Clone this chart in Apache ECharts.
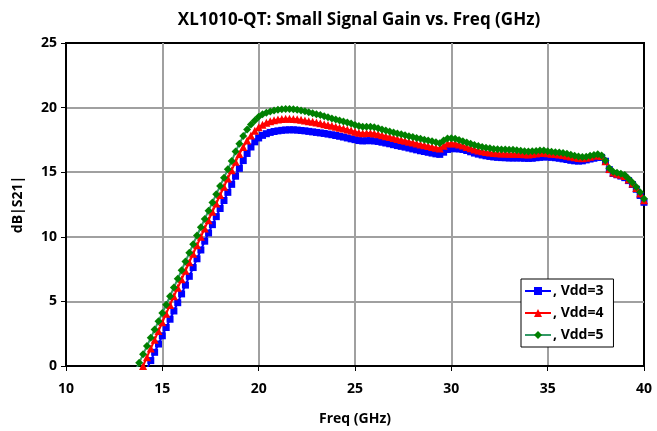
<!DOCTYPE html>
<html>
<head>
<meta charset="utf-8">
<script src="https://cdn.jsdelivr.net/npm/echarts@6/dist/echarts.min.js"></script>
<style>html,body{margin:0;padding:0;background:#fff}#c{width:657px;height:431px}</style>
</head>
<body>
<div id="c"></div>
<script>
var freq = [13.6,13.8,14.0,14.2,14.4,14.6,14.8,15.0,15.2,15.4,15.6,15.8,16.0,16.2,16.4,16.6,16.8,17.0,17.2,17.4,17.6,17.8,18.0,18.2,18.4,18.6,18.8,19.0,19.2,19.4,19.6,19.8,20.0,20.2,20.4,20.6,20.8,21.0,21.2,21.4,21.6,21.8,22.0,22.2,22.4,22.6,22.8,23.0,23.2,23.4,23.6,23.8,24.0,24.2,24.4,24.6,24.8,25.0,25.2,25.4,25.6,25.8,26.0,26.2,26.4,26.6,26.8,27.0,27.2,27.4,27.6,27.8,28.0,28.2,28.4,28.6,28.8,29.0,29.2,29.4,29.6,29.8,30.0,30.2,30.4,30.6,30.8,31.0,31.2,31.4,31.6,31.8,32.0,32.2,32.4,32.6,32.8,33.0,33.2,33.4,33.6,33.8,34.0,34.2,34.4,34.6,34.8,35.0,35.2,35.4,35.6,35.8,36.0,36.2,36.4,36.6,36.8,37.0,37.2,37.4,37.6,37.8,38.0,38.2,38.4,38.6,38.8,39.0,39.2,39.4,39.6,39.8,40.0];

var vdd3 = [-2.1,-1.5,-0.86,-0.22,0.42,1.06,1.7,2.34,2.98,3.62,4.26,4.9,5.58,6.26,6.94,7.62,8.3,8.98,9.66,10.3,10.94,11.56,12.19,12.81,13.44,14.06,14.69,15.3,15.9,16.45,16.95,17.35,17.65,17.85,17.98,18.08,18.15,18.2,18.24,18.27,18.28,18.28,18.26,18.23,18.2,18.16,18.12,18.08,18.04,18.0,17.95,17.9,17.84,17.78,17.72,17.65,17.58,17.52,17.45,17.42,17.44,17.44,17.42,17.38,17.32,17.26,17.2,17.13,17.06,17.0,16.94,16.87,16.8,16.73,16.66,16.6,16.54,16.48,16.42,16.38,16.55,16.76,16.82,16.82,16.8,16.76,16.68,16.58,16.48,16.4,16.33,16.27,16.22,16.18,16.15,16.13,16.12,16.1,16.1,16.1,16.1,16.08,16.07,16.08,16.12,16.15,16.18,16.18,16.15,16.12,16.08,16.03,15.98,15.92,15.88,15.86,15.88,15.95,16.02,16.08,16.15,16.15,15.85,15.2,14.9,14.8,14.7,14.58,14.35,14.05,13.68,13.2,12.67];

var vdd4 = [-1.35,-0.68,0,0.68,1.35,2.03,2.7,3.38,4.05,4.73,5.4,6.05,6.71,7.37,8.03,8.68,9.34,10.0,10.65,11.29,11.94,12.58,13.23,13.87,14.52,15.16,15.8,16.4,16.95,17.45,17.85,18.2,18.48,18.68,18.83,18.94,19.02,19.08,19.12,19.14,19.14,19.12,19.09,19.05,19.0,18.95,18.9,18.84,18.78,18.72,18.66,18.59,18.52,18.45,18.38,18.3,18.22,18.14,18.06,18.02,18.03,18.03,18.0,17.94,17.86,17.79,17.72,17.65,17.57,17.5,17.43,17.36,17.29,17.22,17.15,17.08,17.02,16.96,16.9,16.84,17.05,17.22,17.25,17.22,17.15,17.06,16.96,16.86,16.76,16.68,16.62,16.57,16.52,16.48,16.46,16.45,16.44,16.43,16.43,16.42,16.4,16.38,16.37,16.4,16.44,16.48,16.5,16.46,16.43,16.4,16.37,16.33,16.28,16.22,16.15,16.1,16.08,16.12,16.2,16.27,16.33,16.25,15.85,15.25,14.98,14.88,14.8,14.7,14.43,14.12,13.77,13.35,12.82];

var vdd5 = [-0.38,0.26,0.9,1.54,2.18,2.82,3.46,4.1,4.74,5.4,6.08,6.75,7.42,8.09,8.76,9.43,10.1,10.74,11.38,12.02,12.66,13.3,13.94,14.58,15.22,15.86,16.6,17.2,17.8,18.3,18.7,19.0,19.3,19.48,19.6,19.7,19.77,19.83,19.87,19.9,19.9,19.88,19.84,19.78,19.72,19.64,19.56,19.48,19.42,19.34,19.26,19.16,19.08,19.0,18.92,18.84,18.76,18.66,18.58,18.52,18.52,18.52,18.48,18.4,18.3,18.22,18.15,18.08,18.0,17.93,17.86,17.79,17.72,17.65,17.58,17.51,17.45,17.39,17.32,17.25,17.45,17.6,17.62,17.58,17.5,17.4,17.3,17.2,17.1,17.02,16.95,16.9,16.85,16.8,16.78,16.76,16.75,16.74,16.73,16.7,16.66,16.62,16.6,16.62,16.65,16.68,16.68,16.62,16.58,16.55,16.52,16.48,16.42,16.35,16.27,16.22,16.17,16.2,16.27,16.33,16.38,16.3,15.9,15.3,15.03,14.95,14.88,14.78,14.5,14.2,13.85,13.45,12.95];

var seriesNames = [', Vdd=3', ', Vdd=4', ', Vdd=5'];
var xTicks = [10, 15, 20, 25, 30, 35, 40];
var yTicks = [0, 5, 10, 15, 20, 25];

function pairs(ys) { return freq.map(function (f, i) { return [f, ys[i]]; }); }

var FONT = '"Open Sans", "Noto Sans", sans-serif';
var chart = echarts.init(document.getElementById('c'), null, {renderer: 'canvas'});
var axisLabelStyle = {color: '#000', fontWeight: 'bold', fontSize: 14, fontFamily: FONT};

chart.setOption({
  animation: false,
  backgroundColor: '#fff',
  title: {
    text: 'XL1010-QT: Small Signal Gain vs. Freq (GHz)',
    left: 354, top: 7, textAlign: 'center',
    textStyle: {color: '#000', fontWeight: 'bold', fontSize: 17, fontFamily: FONT}
  },
  grid: {left: 66, right: 13, top: 43, bottom: 63, show: true, borderColor: '#000', borderWidth: 2, backgroundColor: 'transparent'},
  legend: {
    orient: 'vertical', left: 521, top: 279,
    backgroundColor: '#fff', borderColor: '#000', borderWidth: 1, borderRadius: 0,
    padding: [5, 10, 5, 3], itemGap: 8, itemWidth: 26, itemHeight: 10,
    textStyle: {color: '#000', fontWeight: 'bold', fontSize: 14, fontFamily: FONT, padding: [0, 0, 0, -3]},
    data: seriesNames
  },
  xAxis: {
    type: 'value', min: xTicks[0], max: xTicks[xTicks.length - 1], interval: 5,
    name: 'Freq (GHz)', nameLocation: 'middle', nameGap: 46,
    nameTextStyle: {color: '#000', fontWeight: 'bold', fontSize: 14, fontFamily: FONT},
    axisLine: {show: true, lineStyle: {color: '#000', width: 2}},
    axisTick: {show: true, inside: false, length: 5, lineStyle: {color: '#000', width: 1}},
    axisLabel: Object.assign({margin: 16}, axisLabelStyle),
    splitLine: {show: true, showMinLine: false, showMaxLine: false, lineStyle: {color: '#a0a0a0', width: 2}}
  },
  yAxis: {
    type: 'value', min: yTicks[0], max: yTicks[yTicks.length - 1], interval: 5,
    name: 'dB|S21|', nameLocation: 'middle', nameGap: 41,
    nameTextStyle: {color: '#000', fontWeight: 'bold', fontSize: 14, fontFamily: FONT},
    axisLine: {show: true, lineStyle: {color: '#000', width: 2}},
    axisTick: {show: true, inside: false, length: 5, lineStyle: {color: '#000', width: 1}},
    axisLabel: Object.assign({margin: 9}, axisLabelStyle),
    splitLine: {show: true, showMinLine: false, showMaxLine: false, lineStyle: {color: '#a0a0a0', width: 2}}
  },
  series: [
    {name: seriesNames[0], type: 'line', data: pairs(vdd3), symbol: 'rect', symbolSize: 7, showAllSymbol: true,
     clip: true, color: '#0000ff', lineStyle: {color: '#0000ff', width: 2}, itemStyle: {color: '#0000ff'}},
    {name: seriesNames[1], type: 'line', data: pairs(vdd4), symbol: 'triangle', symbolSize: 8, showAllSymbol: true,
     clip: true, color: '#ff0000', lineStyle: {color: '#ff0000', width: 2}, itemStyle: {color: '#ff0000'}},
    {name: seriesNames[2], type: 'line', data: pairs(vdd5), symbol: 'diamond', symbolSize: 8, showAllSymbol: true,
     clip: true, color: '#008000', lineStyle: {color: '#339966', width: 2}, itemStyle: {color: '#008000'}}
  ]
});
</script>
</body>
</html>
